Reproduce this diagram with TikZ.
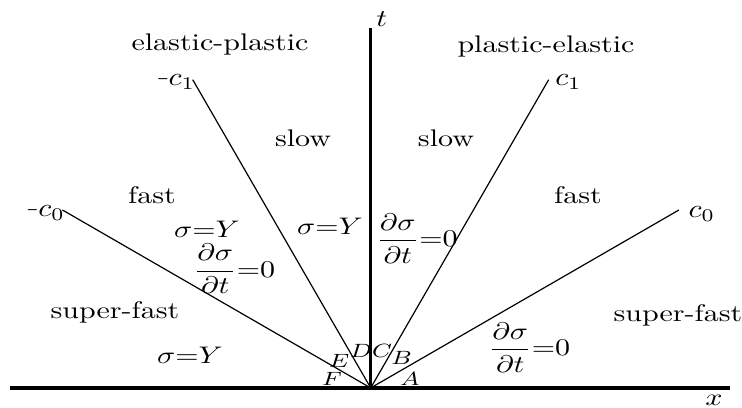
\documentclass[tikz,border=0pt]{standalone}
\usepackage{amsmath}
\newcommand{\shortminus}{\scalebox{0.5}[1]{$-$}}
\begin{document}
\begin{tikzpicture}[region/.style={inner sep=0pt,yscale=0.8},
		raylabel/.style={inner sep=1pt,yscale=0.85},
		corner/.style={inner sep=0pt,yscale=0.8,font=\footnotesize}]
	\useasboundingbox (-4.343,-0.234) rectangle (4.350,4.545);
	\coordinate (O) at (0,0);
	% axes
	\draw[line width=1.1pt] (-4.23,0) -- (4.21,0);
	\draw[line width=0.8pt] (O) -- (0,4.217);
	\node[region] (xlab) at (4.02,-0.15) {$x$};
	\node[region] (tlab) at (0.13,4.32) {$t$};
	% characteristic rays
	\draw[line width=0.4pt] (O) -- (30:4.17) node[raylabel,anchor=west,xshift=2pt,yshift=-1.5pt] (czero) {$c_0$};
	\draw[line width=0.4pt] (O) -- (60:4.17) node[raylabel,anchor=west,xshift=1pt,yshift=-1pt] (cone) {$c_1$};
	\draw[line width=0.4pt] (O) -- (120:4.17) node[raylabel,anchor=east,xshift=2pt] (mcone) {$\shortminus c_1$};
	\draw[line width=0.4pt] (O) -- (150:4.17) node[raylabel,anchor=east,xshift=2pt,yshift=-0.5pt] (mczero) {$\shortminus c_0$};
	% regions
	\node[region] (elpl) at (-1.765,4.018) {elastic-plastic};
	\node[region] (plel) at (2.054,3.995) {plastic-elastic};
	\node[region] (slowl) at (-0.793,2.929) {slow};
	\node[region] (slowr) at (0.882,2.929) {slow};
	\node[region] (fastl) at (-2.562,2.261) {fast};
	\node[region] (fastr) at (2.429,2.261) {fast};
	\node[region] (sfastl) at (-2.995,0.884) {super-fast};
	\node[region] (sfastr) at (3.600,0.855) {super-fast};
	\node[region] (yieldl) at (-1.918,1.857) {$\sigma{=}Y$};
	\node[region] (yieldm) at (-0.477,1.892) {$\sigma{=}Y$};
	\node[region] (yieldb) at (-2.117,0.387) {$\sigma{=}Y$};
	\node[region] (rate_l) at (-1.596,1.394) {$\dfrac{\partial\sigma}{\partial t}{=}0$};
	\node[region] (rate_m) at (0.542,1.751) {$\dfrac{\partial\sigma}{\partial t}{=}0$};
	\node[region] (rate_b) at (1.860,0.474) {$\dfrac{\partial\sigma}{\partial t}{=}0$};
	% sectors at the origin
	\node[corner] (A) at (0.460,0.105) {$A$};
	\node[corner] (B) at (0.361,0.357) {$B$};
	\node[corner] (C) at (0.132,0.428) {$C$};
	\node[corner] (D) at (-0.114,0.439) {$D$};
	\node[corner] (E) at (-0.371,0.316) {$E$};
	\node[corner] (F) at (-0.453,0.111) {$F$};
\end{tikzpicture}
\end{document}
